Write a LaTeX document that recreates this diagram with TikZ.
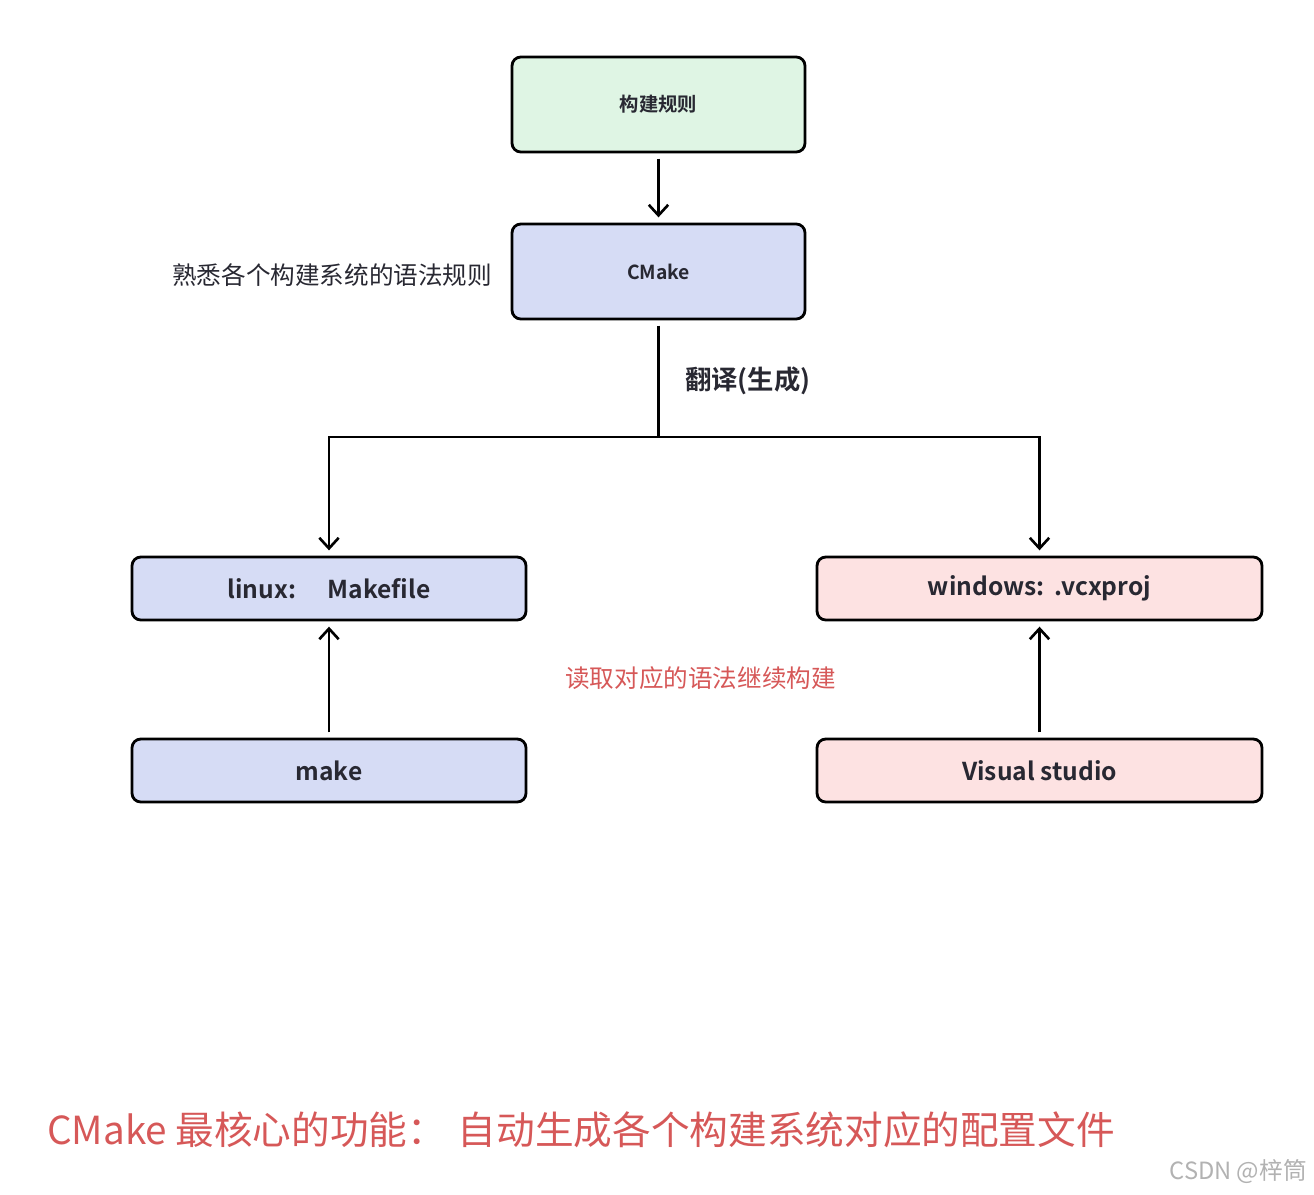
\documentclass[tikz,border=0pt]{standalone}
\usepackage{fontspec}
\setmainfont{Noto Sans CJK SC}[BoldFont=* Bold]
\usepackage{xcolor}
\usetikzlibrary{arrows.meta, positioning}

\definecolor{rulegreen}{RGB}{223,245,228}
\definecolor{toolblue}{RGB}{214,220,245}
\definecolor{winpink}{RGB}{253,226,226}
\definecolor{notered}{RGB}{214,88,88}
\definecolor{boxtext}{RGB}{40,40,50}

\begin{document}
\begin{tikzpicture}[
                x = 0.02cm, y = -0.02cm, % one unit per pixel
                arr/.style = {-{Straight Barb[length=6pt, width=11pt]}, line width=1.5pt,
                              shorten > = 3pt, shorten < = 3pt},
                link/.style = {line width=1.5pt}
        ]

        \useasboundingbox (0,0) rectangle (1314,1194);

        \tikzset{
            box/.style = {
                draw = black,
                line width = 1.6pt,
                rounded corners = 5pt,
                text = boxtext,
                font = \bfseries
            },
            bigbox/.style = {box, minimum width = 293*0.02cm, minimum height = 95*0.02cm,
                             font = \fontsize{11}{13}\selectfont\bfseries},
            widebox/.style = {box, minimum height = 63*0.02cm,
                              font = \fontsize{14}{16}\selectfont\bfseries}
        }

        \node[bigbox, fill=rulegreen] (rules) at (658.5,104.5) {构建规则};
        \node[bigbox, fill=toolblue] (cmake) at (658.5,271.5) {CMake};

        \node[widebox, fill=toolblue, minimum width=394*0.02cm] (linux) at (329,588.5) {linux:\hspace{1.3em}Makefile};
        \node[widebox, fill=toolblue, minimum width=394*0.02cm] (make) at (329,770.5) {make};
        \node[widebox, fill=winpink, minimum width=445*0.02cm] (windows) at (1039.5,588.5) {windows:\hspace{0.4em}.vcxproj};
        \node[widebox, fill=winpink, minimum width=445*0.02cm] (vs) at (1039.5,770.5) {Visual studio};

        \coordinate (split) at (658.5,437);

        \draw[arr] (rules) -- (cmake);
        \draw[link, shorten < = 3pt] (cmake) -- (split);
        \draw[arr, shorten < = 0pt] (split) -| (linux);
        \draw[arr, shorten < = 0pt] (split) -| (windows);
        \draw[arr] (make) -- (linux);
        \draw[arr] (vs) -- (windows);

        % labels
        \node[font=\fontsize{14}{16}\selectfont, text=boxtext, left=7pt of cmake, yshift=-2pt] (learn) {熟悉各个构建系统的语法规则};
        \node[font=\fontsize{15}{18}\selectfont\bfseries, text=boxtext, anchor=west] (translate) at (679,381) {翻译(生成)};
        \node[font=\fontsize{14}{16}\selectfont, text=notered] (readback) at (700.5,678) {读取对应的语法继续构建};
        \node[font=\fontsize{22}{26}\selectfont, text=notered, anchor=west] (summary) at (41,1130) {CMake 最核心的功能：\hspace{0.3em}自动生成各个构建系统对应的配置文件};
        \node[font=\fontsize{13.5}{16}\selectfont, text=black!30, anchor=east] (mark) at (1313,1172) {CSDN @梓筒};

\end{tikzpicture}
\end{document}
